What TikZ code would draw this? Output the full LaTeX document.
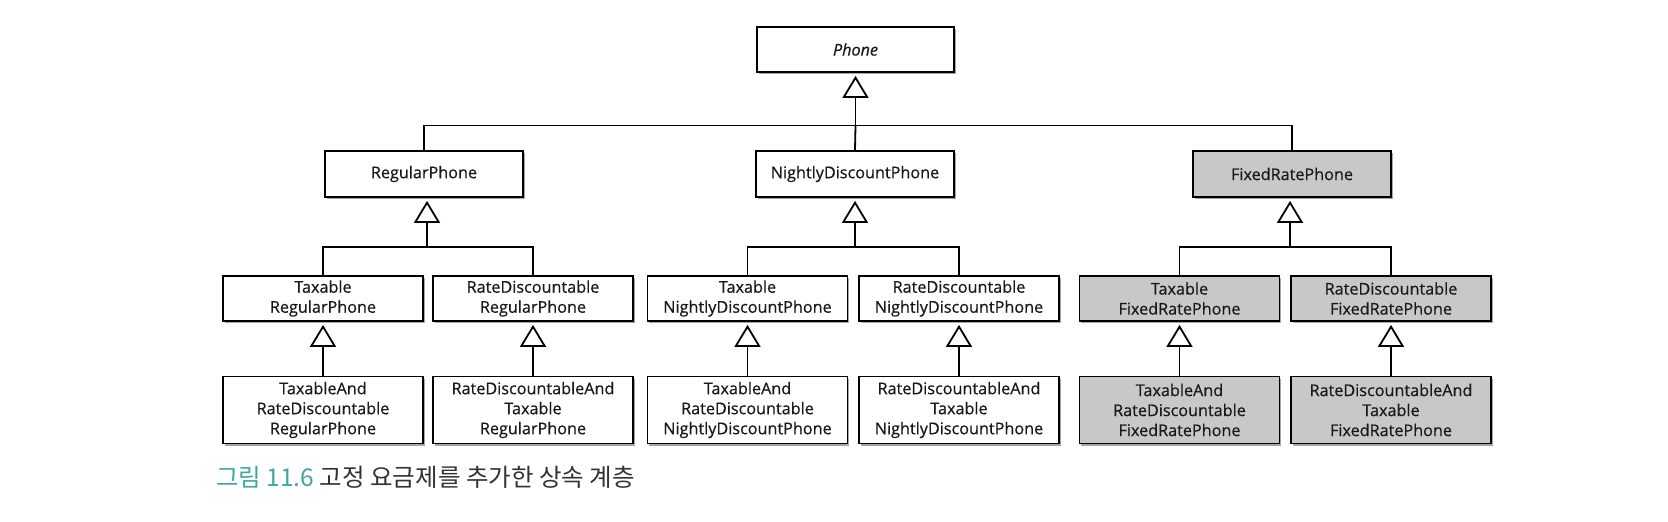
\documentclass[tikz,border=0pt]{standalone}
\usepackage{fontspec}
\setmainfont{Open Sans}
\newfontfamily\boxfont{Open Sans}[FakeBold=0.5]
\newfontfamily\kofont{Noto Sans CJK KR}
\usetikzlibrary{arrows.meta,shadows}
\definecolor{capteal}{RGB}{62,168,158}
\definecolor{boxgray}{RGB}{200,200,200}
\begin{document}
\begin{tikzpicture}[x=1pt,y=-1pt,
  cls/.style={draw=black,line width=1.8pt,fill=white,align=center,inner sep=0pt,
    font=\boxfont\fontsize{16.2}{20}\selectfont,text=black!90,
    drop shadow={shadow xshift=1.5pt,shadow yshift=-2pt,opacity=0.35,fill=black}},
  hl/.style={cls,fill=boxgray},
  lv1/.style={minimum width=197pt,minimum height=45pt},
  lv2/.style={minimum width=198pt,minimum height=46pt},
  lv3/.style={minimum width=200pt,minimum height=45pt},
  lv4/.style={minimum width=200pt,minimum height=67pt},
  link/.style={line width=1.8pt},
  inh/.style={line width=1.8pt,-{Triangle[width=26pt,length=22pt,fill=white,line width=1.8pt]},shorten >=3pt}
]
\useasboundingbox (0,0) rectangle (1668,522);

% level 1
\node[cls,lv1] (phone) at (855.5,49.5) {\itshape Phone};

% level 2
\node[cls,lv2] (reg) at (424,174) {RegularPhone};
\node[cls,lv2] (nig) at (855,174) {NightlyDiscountPhone};
\node[hl,lv2] (fix) at (1292,174) {FixedRatePhone};

% level 3
\node[cls,lv3] (treg) at (323,298.5) {Taxable\\RegularPhone};
\node[cls,lv3] (rreg) at (533,298.5) {RateDiscountable\\RegularPhone};
\node[cls,lv3] (tnig) at (747.5,298.5) {Taxable\\NightlyDiscountPhone};
\node[cls,lv3] (rnig) at (959,298.5) {RateDiscountable\\NightlyDiscountPhone};
\node[hl,lv3] (tfix) at (1179.5,298.5) {Taxable\\FixedRatePhone};
\node[hl,lv3] (rfix) at (1391,298.5) {RateDiscountable\\FixedRatePhone};

% level 4
\node[cls,lv4] (trreg) at (323,410) {TaxableAnd\\RateDiscountable\\RegularPhone};
\node[cls,lv4] (rtreg) at (533,410) {RateDiscountableAnd\\Taxable\\RegularPhone};
\node[cls,lv4] (trnig) at (747.5,410) {TaxableAnd\\RateDiscountable\\NightlyDiscountPhone};
\node[cls,lv4] (rtnig) at (959,410) {RateDiscountableAnd\\Taxable\\NightlyDiscountPhone};
\node[hl,lv4] (trfix) at (1179.5,410) {TaxableAnd\\RateDiscountable\\FixedRatePhone};
\node[hl,lv4] (rtfix) at (1391,410) {RateDiscountableAnd\\Taxable\\FixedRatePhone};

% bar coordinates
\coordinate (bar1) at (855.5,125.5);
\coordinate (barreg) at (427,247);
\coordinate (barnig) at (855,247);
\coordinate (barfix) at (1290,247);

% level 1 -> 2
\draw[link] (reg.north) |- (bar1) -| (fix.north);
\draw[link] (nig.north) -- (bar1);
\draw[inh] (bar1) -- (phone.south);

% level 2 -> 3
\draw[link] (treg.north) |- (barreg) -| (rreg.north);
\draw[inh] (barreg) -- (barreg |- reg.south);
\draw[link] (tnig.north) |- (barnig) -| (rnig.north);
\draw[inh] (barnig) -- (nig.south);
\draw[link] (tfix.north) |- (barfix) -| (rfix.north);
\draw[inh] (barfix) -- (barfix |- fix.south);

% level 3 -> 4
\draw[inh] (trreg.north) -- (treg.south);
\draw[inh] (rtreg.north) -- (rreg.south);
\draw[inh] (trnig.north) -- (tnig.south);
\draw[inh] (rtnig.north) -- (rnig.south);
\draw[inh] (trfix.north) -- (tfix.south);
\draw[inh] (rtfix.north) -- (rfix.south);

% caption
\node[anchor=west,inner sep=0pt,font=\kofont\fontsize{24.5}{28}\selectfont,text=black!80] (cap) at (216,477)
  {\textcolor{capteal}{그림 11.6} 고정 요금제를 추가한 상속 계층};
\end{tikzpicture}
\end{document}
